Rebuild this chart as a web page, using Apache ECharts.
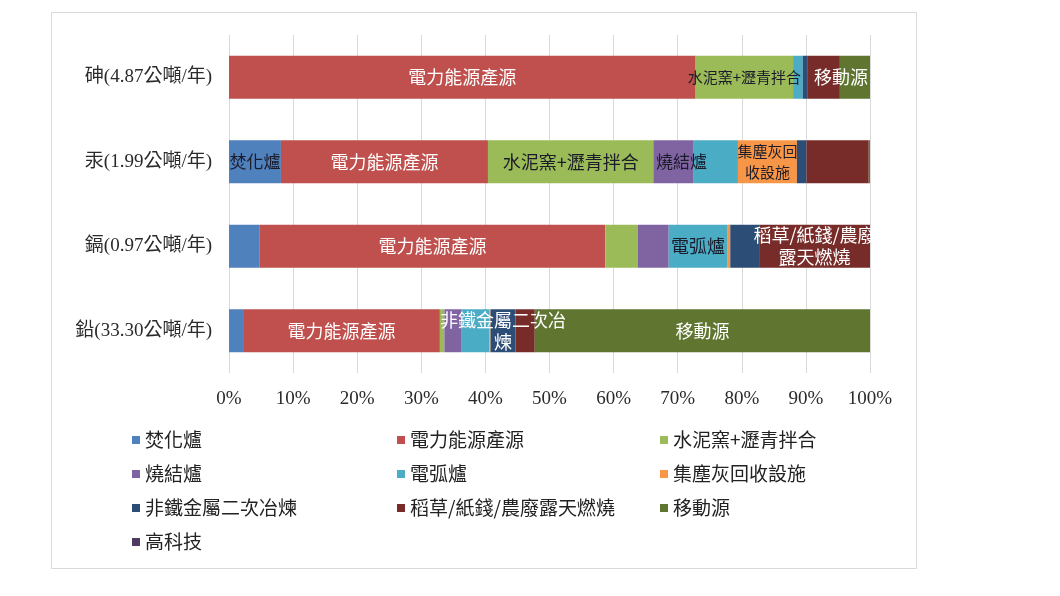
<!DOCTYPE html>
<html>
<head>
<meta charset="utf-8">
<script src="https://cdn.jsdelivr.net/npm/echarts@6/dist/echarts.min.js"></script>
<style>
  html, body { margin: 0; background: #fff; }
  #chart { width: 1060px; height: 596px; }
</style>
</head>
<body>
<div id="chart"></div>
<script>
// 各金屬排放量來源比例 (%)
const categories = ['砷(4.87公噸/年)', '汞(1.99公噸/年)', '鎘(0.97公噸/年)', '鉛(33.30公噸/年)'];
const sourceNames = ['焚化爐', '電力能源產源', '水泥窯+瀝青拌合', '燒結爐', '電弧爐',
  '集塵灰回收設施', '非鐵金屬二次冶煉', '稻草/紙錢/農廢露天燃燒', '移動源', '高科技'];

const incinerator  = [0,    8.1,  4.8,  2.2];
const powerPlant   = [72.8, 32.3, 53.9, 30.7];
const cementKiln   = [15.2, 25.8, 5.1,  0.7];
const sinterPlant  = [0,    6.3,  4.8,  2.6];
const arcFurnace   = [1.5,  6.9,  9.1,  4.4];
const dustRecycle  = [0,    9.2,  0.5,  0.2];
const nonFerrous   = [0.7,  1.5,  4.5,  3.9];
const openBurning  = [5.1,  9.7,  17.3, 3.0];
const mobile       = [4.7,  0.2,  0,    52.3];
const hiTech       = [0,    0,    0,    0];
const seriesValues = [incinerator, powerPlant, cementKiln, sinterPlant, arcFurnace,
  dustRecycle, nonFerrous, openBurning, mobile, hiTech];

const xTicks = [0, 10, 20, 30, 40, 50, 60, 70, 80, 90, 100];

// 長條內的文字標籤: [來源序號, 類別序號, 文字]
const barLabels = [
  [1, 0, '電力能源產源'], [2, 0, '水泥窯+瀝青拌合'], [8, 0, '移動源'],
  [0, 1, '焚化爐'], [1, 1, '電力能源產源'], [2, 1, '水泥窯+瀝青拌合'], [3, 1, '燒結爐'], [5, 1, '集塵灰回\n收設施'],
  [1, 2, '電力能源產源'], [4, 2, '電弧爐'], [7, 2, '稻草/紙錢/農廢\n露天燃燒'],
  [1, 3, '電力能源產源'], [6, 3, '非鐵金屬二次冶\n煉'], [8, 3, '移動源']
];

const colors = ['#4f81bd', '#c0504d', '#9bbb59', '#8064a2', '#4bacc6',
  '#f79646', '#2c4d75', '#772c2a', '#5f7530', '#4d3b62'];
const lightText = [1, 6, 7, 8];
const font = "'Liberation Serif', 'Noto Sans CJK TC', serif";
const cjkFont = "'Noto Sans CJK TC', sans-serif";

// 個別標籤的微調
const labelTweak = {
  '2-0': { fontSize: 15 },
  '8-0': { offset: [-14, 0] },
  '0-1': { fontSize: 17 },
  '3-1': { offset: [8, 0], fontSize: 17 },
  '5-1': { fontSize: 15, lineHeight: 21 },
  '7-2': { lineHeight: 22 },
  '6-3': { lineHeight: 22 }
};

const chart = echarts.init(document.getElementById('chart'));

const series = sourceNames.map((name, s) => ({
  name: name,
  type: 'bar',
  stack: 'total',
  barWidth: 43,
  itemStyle: { color: colors[s] },
  label: {
    show: false,
    position: 'inside',
    fontFamily: cjkFont,
    fontSize: 18,
    color: lightText.includes(s) ? '#ffffff' : '#1b1b2a'
  },
  data: seriesValues[s].map((v, c) => {
    const hit = barLabels.find(b => b[0] === s && b[1] === c);
    if (!hit) return v;
    return {
      value: v,
      label: Object.assign({ show: true, formatter: hit[2] }, labelTweak[s + '-' + c] || {})
    };
  })
}));

const legendCols = [127, 392, 655];

const option = {
  backgroundColor: '#ffffff',
  animation: false,
  graphic: [{
    type: 'rect',
    shape: { x: 51.5, y: 12.5, width: 865, height: 556 },
    style: { fill: 'none', stroke: '#d9d9d9', lineWidth: 1 },
    z: -1
  }],
  grid: { left: 229, right: 190, top: 35, bottom: 223 },
  xAxis: {
    type: 'value',
    min: xTicks[0],
    max: xTicks[xTicks.length - 1],
    interval: 10,
    axisLine: { show: false },
    axisTick: { show: false },
    splitLine: { lineStyle: { color: '#d9d9d9', width: 1 } },
    axisLabel: {
      formatter: '{value}%',
      margin: 17,
      fontFamily: font,
      fontSize: 19,
      color: '#2a2a2a'
    }
  },
  yAxis: {
    type: 'category',
    inverse: true,
    data: categories,
    axisLine: { show: false },
    axisTick: { show: false },
    axisLabel: {
      margin: 17,
      fontFamily: font,
      fontSize: 19,
      color: '#2a2a2a'
    }
  },
  legend: legendCols.map((left, col) => ({
    orient: 'vertical',
    left: left,
    top: 424,
    itemGap: 12,
    itemWidth: 8,
    itemHeight: 8,
    icon: 'rect',
    selectedMode: false,
    data: sourceNames.filter((_, i) => i % 3 === col),
    textStyle: { fontFamily: cjkFont, fontSize: 19, lineHeight: 22, color: '#222' }
  })),
  series: series
};

chart.setOption(option);
</script>
</body>
</html>
